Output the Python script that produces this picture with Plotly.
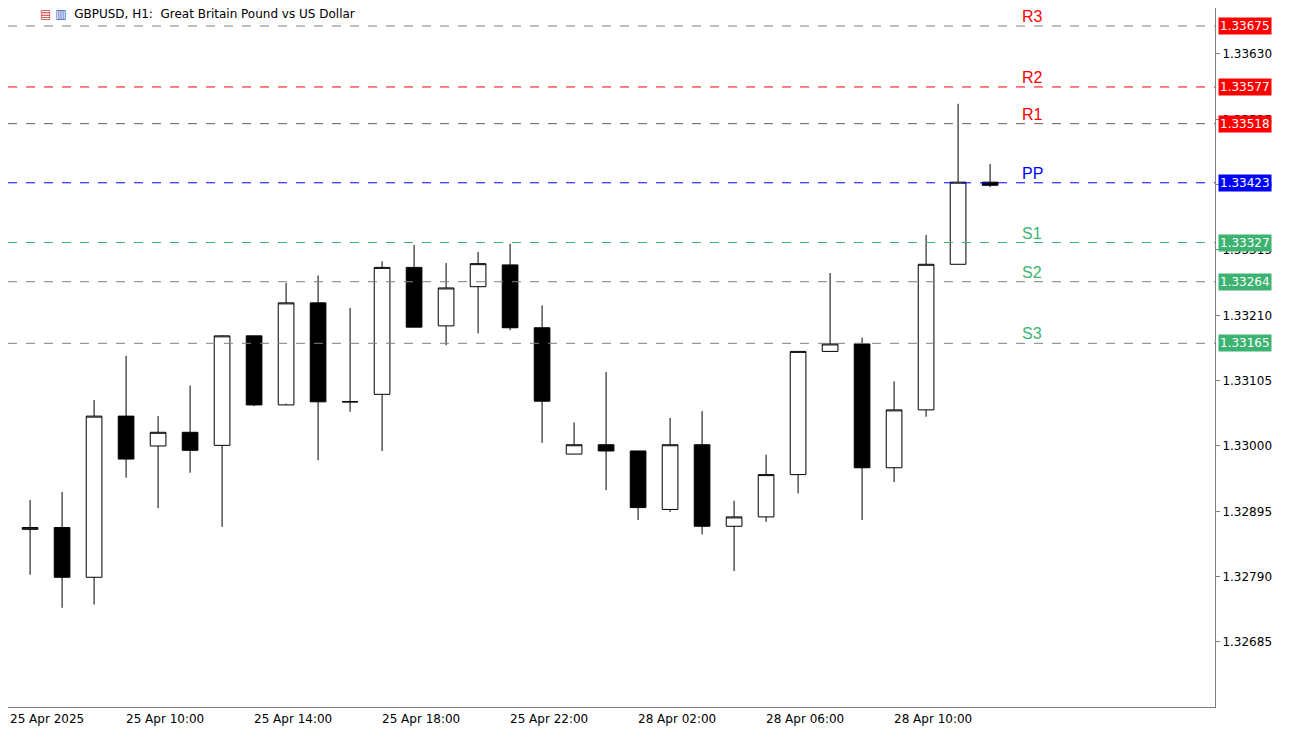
import plotly.graph_objects as go

# --- data (GBPUSD H1) ---
times = ["25 Apr 06:00", "25 Apr 07:00", "25 Apr 08:00", "25 Apr 09:00", "25 Apr 10:00",
         "25 Apr 11:00", "25 Apr 12:00", "25 Apr 13:00", "25 Apr 14:00", "25 Apr 15:00",
         "25 Apr 16:00", "25 Apr 17:00", "25 Apr 18:00", "25 Apr 19:00", "25 Apr 20:00",
         "25 Apr 21:00", "25 Apr 22:00", "25 Apr 23:00", "28 Apr 00:00", "28 Apr 01:00",
         "28 Apr 02:00", "28 Apr 03:00", "28 Apr 04:00", "28 Apr 05:00", "28 Apr 06:00",
         "28 Apr 07:00", "28 Apr 08:00", "28 Apr 09:00", "28 Apr 10:00", "28 Apr 11:00",
         "28 Apr 12:00", "28 Apr 13:00"]
opens = [1.33048, 1.32866, 1.32869, 1.32789, 1.33048, 1.33000, 1.33022, 1.33001, 1.33177,
         1.33066, 1.33230, 1.33071, 1.33083, 1.33287, 1.33193, 1.33256, 1.33291, 1.33190,
         1.32987, 1.33002, 1.32992, 1.32898, 1.33002, 1.32871, 1.32886, 1.32954, 1.33152,
         1.33164, 1.32965, 1.33058, 1.33292, 1.33424]
highs = [1.33048, 1.32913, 1.32926, 1.33074, 1.33145, 1.33048, 1.33097, 1.33178, 1.33177,
         1.33262, 1.33274, 1.33222, 1.33297, 1.33323, 1.33294, 1.33312, 1.33325, 1.33226,
         1.33038, 1.33119, 1.32992, 1.33045, 1.33056, 1.32912, 1.32986, 1.33152, 1.33278,
         1.33174, 1.33104, 1.33339, 1.33550, 1.33453]
lows = [1.32866, 1.32793, 1.32740, 1.32745, 1.32949, 1.32900, 1.32957, 1.32870, 1.33064,
        1.33068, 1.32977, 1.33055, 1.32992, 1.33191, 1.33162, 1.33181, 1.33186, 1.33005,
        1.32987, 1.32929, 1.32881, 1.32894, 1.32858, 1.32799, 1.32878, 1.32924, 1.33152,
        1.32881, 1.32942, 1.33047, 1.33292, 1.33416]
closes = [1.32866, 1.32869, 1.32789, 1.33048, 1.32979, 1.33022, 1.32993, 1.33177, 1.33066,
          1.33230, 1.33071, 1.33071, 1.33287, 1.33191, 1.33254, 1.33293, 1.33190, 1.33072,
          1.33002, 1.32992, 1.32901, 1.33002, 1.32871, 1.32886, 1.32954, 1.33152, 1.33164,
          1.32965, 1.33058, 1.33292, 1.33424, 1.33419]

pivot_names = ["R3", "R2", "R1", "PP", "S1", "S2", "S3"]
pivot_levels = [1.33675, 1.33577, 1.33518, 1.33423, 1.33327, 1.33264, 1.33165]
pivot_line_colors = ["#808080", "#FF0000", "#606060", "#0000FF", "#3CB371", "#808080", "#808080"]
pivot_text_colors = ["#FF0000", "#FF0000", "#FF0000", "#0000FF", "#3CB371", "#3CB371", "#3CB371"]
pivot_box_colors = ["#FF0000", "#FF0000", "#FF0000", "#0000FF", "#3CB371", "#3CB371", "#3CB371"]

time_label_idx = [0, 4, 8, 12, 16, 20, 24, 28]
time_labels = ["25 Apr 2025", "25 Apr 10:00", "25 Apr 14:00", "25 Apr 18:00",
               "25 Apr 22:00", "28 Apr 02:00", "28 Apr 06:00", "28 Apr 10:00"]
price_ticks = [1.33630, 1.33525, 1.33420, 1.33315, 1.33210, 1.33105, 1.33000,
               1.32895, 1.32790, 1.32685]

x = list(range(len(times)))
font = "DejaVu Sans"
x_start = 0.31

fig = go.Figure()
fig.add_trace(go.Candlestick(
    x=x, open=opens, high=highs, low=lows, close=closes,
    increasing=dict(line=dict(color="black", width=1), fillcolor="white"),
    decreasing=dict(line=dict(color="black", width=1), fillcolor="black"),
    whiskerwidth=0, showlegend=False, hoverinfo="skip",
))

# pivot lines, labels and price boxes
for name, lvl, lc, tc, bc in zip(pivot_names, pivot_levels, pivot_line_colors,
                                 pivot_text_colors, pivot_box_colors):
    fig.add_shape(type="line", xref="paper", x0=0, x1=1, yref="y", y0=lvl, y1=lvl,
                  line=dict(color=lc, width=1, dash="dash"))
    fig.add_annotation(x=31.95, y=lvl, xref="x", yref="y", text=name, showarrow=False,
                       xanchor="left", yanchor="bottom", yshift=-1,
                       font=dict(family="Liberation Sans", size=16, color=tc))
    fig.add_annotation(x=1, y=lvl, xref="paper", yref="y", text=f"{lvl:.5f}",
                       showarrow=False, xanchor="left", xshift=3, bgcolor=bc,
                       borderpad=1, font=dict(family=font, size=12, color="white"))

# time labels, left aligned like the terminal
for i, lab in zip(time_label_idx, time_labels):
    fig.add_annotation(x=max(i, x_start + 0.01), y=0, xref="x", yref="paper", text=lab,
                       showarrow=False, xanchor="left", yanchor="top", yshift=-3,
                       xshift=0 if i == 0 else -2,
                       font=dict(family=font, size=12, color="black"))

fig.add_annotation(x=0, y=1, xref="paper", yref="paper",
                   text="<span style='color:#d04040'>\u25a4</span> "
                        "<span style='color:#3060c0'>\u25a5</span>  GBPUSD, H1:  Great Britain Pound vs US Dollar",
                   showarrow=False, xanchor="left", yanchor="top", xshift=30, yshift=3,
                   font=dict(family=font, size=12, color="black"))

fig.update_layout(
    width=1286, height=722,
    margin=dict(l=0, r=79, t=0, b=23, autoexpand=False),
    paper_bgcolor="white", plot_bgcolor="white",
    xaxis=dict(range=[x_start, x_start + 1207 / 32], showgrid=False, zeroline=False,
               showticklabels=False, rangeslider=dict(visible=False), showline=True,
               linecolor="#808080", ticks="", fixedrange=True),
    yaxis=dict(range=[1.325805, 1.337039], side="right", tickvals=price_ticks,
               ticktext=[f"{v:.5f}" for v in price_ticks], showgrid=False, zeroline=False,
               showline=True, linecolor="#808080", ticks="outside", ticklen=4,
               tickcolor="#808080", tickfont=dict(family=font, size=12, color="black")),
)

fig.write_html("out.html")
